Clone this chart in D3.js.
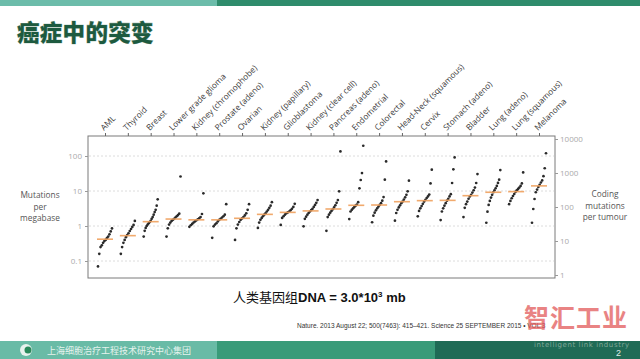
<!DOCTYPE html>
<html><head><meta charset="utf-8">
<script src="https://cdn.jsdelivr.net/npm/d3@7"></script>
<style>
html,body{margin:0;padding:0;background:#fff;}
svg{display:block;}
</style></head>
<body>
<svg id="c" width="640" height="359"></svg>
<script>
// ---- data ----
const categories = ["AML","Thyroid","Breast","Lower grade glioma","Kidney (chromophobe)","Prostate (adeno)","Ovarian","Kidney (papillary)","Glioblastoma","Kidney (clear cell)","Pancreas (adeno)","Endometrial","Colorectal","Head-Neck (squamous)","Cervix","Stomach (adeno)","Bladder","Lung (adeno)","Lung (squamous)","Melanoma"];
const aml = [0.07,0.16,0.25,0.28,0.33,0.37,0.4,0.45,0.5,0.58,0.7,0.85];
const thyroid = [0.16,0.25,0.33,0.4,0.48,0.55,0.62,0.72,0.82,0.94,1.07,1.4];
const breast = [0.5,0.73,0.88,1.0,1.1,1.2,1.3,1.4,1.6,1.8,2.1,2.5,2.9,3.8,5.8];
const lgg = [0.5,0.86,1.1,1.25,1.4,1.5,1.6,1.75,1.9,2.05,2.25,26];
const kich = [0.95,1.05,1.15,1.25,1.35,1.45,1.55,1.65,1.8,2.2,8.6];
const prostate = [0.46,0.98,1.1,1.2,1.35,1.5,1.6,1.75,1.9,2.1,4.2];
const ovarian = [0.4,0.86,1.1,1.3,1.5,1.65,1.8,2.0,2.3,2.9,4.2];
const kirp = [0.88,1.25,1.5,1.7,1.9,2.1,2.3,2.6,2.9,3.3,3.8,4.8];
const gbm = [1.07,1.7,1.9,2.1,2.3,2.45,2.6,2.8,3.1,3.5,4.3];
const kirc = [0.98,1.6,1.85,2.1,2.35,2.6,2.85,3.1,3.5,4.0,4.6,5.5];
const pancreas = [0.73,1.8,2.1,2.4,2.7,3.0,3.4,3.9,4.6,5.5,9.8,135];
const endometrial = [1.58,2.6,2.9,3.2,3.5,3.8,4.1,4.8,11.9,20.6,32.6,196];
const colorectal = [1.28,1.97,2.4,2.8,3.2,3.6,4.0,4.5,5.3,6.7,21,70];
const headneck = [1.42,2.35,2.9,3.4,3.9,4.5,5.0,5.7,6.6,7.8,9.8,19.7];
const cervix = [1.89,2.7,3.2,3.7,4.3,5.0,5.6,6.3,7.0,7.9,16.5,40.6];
const stomach = [1.48,2.6,3.2,3.8,4.5,5.3,6.0,7.0,8.1,16.9,41.7,91];
const bladder = [1.8,3.3,4.2,5.0,6.0,7.0,7.8,9.0,10.5,12.5,16.9,30.5];
const lungAdeno = [1.24,2.56,4.0,5.2,6.5,7.8,9.2,10.5,12,14,17,21,39.7];
const lungSq = [4.2,5.2,6.2,7.2,8.2,9.4,10.5,11.5,12.5,14,16.5,34];
const melanoma = [1.24,3.06,5.9,9.2,11,13,15,17.5,20,26.5,44.6,120];
const seriesValues = [aml,thyroid,breast,lgg,kich,prostate,ovarian,kirp,gbm,kirc,pancreas,endometrial,colorectal,headneck,cervix,stomach,bladder,lungAdeno,lungSq,melanoma];
const medians = [0.42,0.53,1.33,1.58,1.5,1.5,1.66,2.15,2.45,2.7,3.06,3.9,3.98,4.95,5.3,5.4,7.35,9.2,9.6,14];
const leftTicks = [0.1,1,10,100];
const leftTickLabels = ["0.1","1","10","100"];
const rightTicks = [1,10,100,1000,10000];
const rightTickLabels = ["1","10","100","1000","10000"];

// ---- layout ----
const svg = d3.select("#c");
const box = {l:88, r:555, t:136, b:278};

// page decoration
svg.append("rect").attr("x",0).attr("y",0).attr("width",217).attr("height",6).attr("fill","#6cbcaa");
svg.append("rect").attr("x",217).attr("y",0).attr("width",423).attr("height",6).attr("fill","#2f8c6c");
svg.append("text").attr("x",17).attr("y",41).text("癌症中的突变")
  .attr("font-family","'Noto Sans CJK SC'").attr("font-weight","900").attr("font-size",22.5)
  .attr("letter-spacing",0.3).attr("fill","#1d5a3f")
  .style("paint-order","stroke").attr("stroke","#9ab5a8").attr("stroke-width",0.6);

// scales
const x = d3.scalePoint().domain(categories).range([105,539]);
const yL = d3.scaleLog().domain([0.1,100]).range([261,156]);
const yR = d3.scaleLog().domain([1,10000]).range([275,139]);
const jitter = d3.scaleLinear().domain([0,1]).range([-7,7]);

// gridlines
svg.append("g").selectAll("line").data(leftTicks).join("line")
  .attr("x1",box.l+1).attr("x2",box.r-1)
  .attr("y1",d=>yL(d)).attr("y2",d=>yL(d))
  .attr("stroke","#dcdcdc").attr("stroke-width",1).attr("stroke-dasharray","2,2");

// border
svg.append("rect").attr("x",box.l).attr("y",box.t).attr("width",box.r-box.l).attr("height",box.b-box.t)
  .attr("fill","none").attr("stroke","#7a7a7a").attr("stroke-width",1);

// left axis
const gL = svg.append("g").attr("transform",`translate(${box.l},0)`)
  .call(d3.axisLeft(yL).tickValues(leftTicks).tickSize(3).tickPadding(3)
    .tickFormat((d,i)=>leftTickLabels[i]));
gL.select(".domain").remove();
gL.selectAll("line").attr("stroke","#999");
gL.selectAll("text").attr("font-family","'Open Sans'").attr("font-size",8).attr("fill","#aaa");

// right axis
const gR = svg.append("g").attr("transform",`translate(${box.r},0)`)
  .call(d3.axisRight(yR).tickValues(rightTicks).tickSize(3).tickPadding(2)
    .tickFormat((d,i)=>rightTickLabels[i]));
gR.select(".domain").remove();
gR.selectAll("line").attr("stroke","#999");
gR.selectAll("text").attr("font-family","'Open Sans'").attr("font-size",8).attr("fill","#aaa");

// top axis
const gT = svg.append("g").attr("transform",`translate(0,${box.t})`)
  .call(d3.axisTop(x).tickSize(3).tickFormat(""));
gT.select(".domain").remove();
gT.selectAll("line").attr("stroke","#666");
svg.append("g").selectAll("text").data(categories).join("text")
  .attr("transform",d=>`translate(${x(d)-1},${box.t-5}) rotate(-45)`)
  .attr("font-family","'Open Sans'").attr("font-size",8.3).attr("fill","#3a3a3a")
  .text(d=>d);

// axis titles
const leftTitle = ["Mutations","per","megabase"];
const rightTitle = ["Coding","mutations","per tumour"];
svg.append("g").selectAll("text").data(leftTitle).join("text")
  .attr("x",40).attr("y",(d,i)=>198+i*11.5)
  .attr("font-family","'Open Sans'").attr("font-size",8.3).attr("fill","#555").attr("text-anchor","middle")
  .text(d=>d);
svg.append("g").selectAll("text").data(rightTitle).join("text")
  .attr("x",605).attr("y",(d,i)=>197+i*11.5)
  .attr("font-family","'Open Sans'").attr("font-size",8.3).attr("fill","#555").attr("text-anchor","middle")
  .text(d=>d);

// dots
const pts = [];
seriesValues.forEach((arr,ci)=>{
  const sorted = arr.slice().sort((a,b)=>a-b);
  sorted.forEach((v,i)=>pts.push({c:categories[ci], v, f: sorted.length>1 ? i/(sorted.length-1) : 0.5}));
});
svg.append("g").selectAll("circle").data(pts).join("circle")
  .attr("cx",d=>x(d.c)+jitter(d.f)).attr("cy",d=>yL(d.v)).attr("r",1.35).attr("fill","#2a2a2a");

// medians
svg.append("g").selectAll("line").data(categories).join("line")
  .attr("x1",d=>x(d)-8).attr("x2",d=>x(d)+8)
  .attr("y1",(d,i)=>yL(medians[i])).attr("y2",(d,i)=>yL(medians[i]))
  .attr("stroke","#f0a15e").attr("stroke-width",1.6).attr("opacity",0.9);

// subtitle
const st = svg.append("text").attr("x",233).attr("y",302).attr("font-size",13).attr("fill","#111")
  .attr("font-family","'Liberation Sans','Noto Sans CJK SC'");
st.append("tspan").attr("font-family","'Noto Sans CJK SC'").text("人类基因组");
st.append("tspan").attr("font-weight","bold").text("DNA = 3.0*10");
st.append("tspan").attr("font-weight","bold").attr("font-size",8).attr("dy",-5).text("3");
st.append("tspan").attr("font-weight","bold").attr("dy",5).text(" mb");

// citation
svg.append("text").attr("x",297).attr("y",328).attr("font-family","'Liberation Sans'").attr("font-size",6.5).attr("fill","#333")
  .text("Nature. 2013 August 22; 500(7463): 415–421.    Science  25 SEPTEMBER 2015 • VOL 3");

// watermark
svg.append("text").attr("x",524).attr("y",327).text("智汇工业")
  .attr("font-family","'Noto Sans CJK SC'").attr("font-size",25).attr("font-weight","bold")
  .attr("fill","#e25a5a").attr("opacity",0.75).attr("letter-spacing",1);

// bottom bar
svg.append("rect").attr("x",0).attr("y",341).attr("width",217).attr("height",18).attr("fill","#69bba6");
svg.append("rect").attr("x",217).attr("y",341).attr("width",218).attr("height",18).attr("fill","#399b79");
svg.append("rect").attr("x",435).attr("y",341).attr("width",205).attr("height",18).attr("fill","#1f6b56");
svg.append("circle").attr("cx",26).attr("cy",350).attr("r",6).attr("fill","#e8f2ee");
svg.append("circle").attr("cx",28).attr("cy",350).attr("r",3.5).attr("fill","#2a8a5c");
svg.append("text").attr("x",47).attr("y",354).attr("font-family","'Noto Sans CJK SC'").attr("font-size",9)
  .attr("fill","#e6f3ee").text("上海细胞治疗工程技术研究中心集团");
svg.append("text").attr("x",534).attr("y",347).attr("font-family","'DejaVu Sans'").attr("font-size",7)
  .attr("fill","#7fa898").attr("letter-spacing",0.6).text("intelligent link industry");
svg.append("text").attr("x",616).attr("y",356).attr("font-family","'Liberation Sans'").attr("font-size",9)
  .attr("fill","#e0eee8").text("2");
</script>
</body></html>
